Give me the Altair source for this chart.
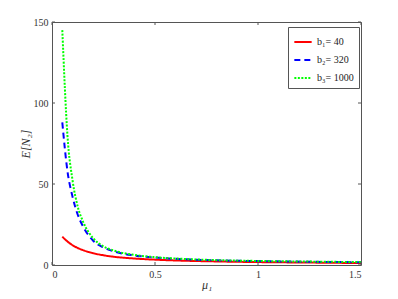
import altair as alt
import pandas as pd

mu = [0.05, 0.075, 0.1, 0.125, 0.15, 0.2, 0.25, 0.3, 0.4, 0.5, 0.6, 0.8, 1.0, 1.25, 1.5]
red = [17.5, 14.5, 12.2, 10.5, 9.2, 7.3, 6.0, 5.1, 4.0, 3.3, 2.8, 2.2, 1.8, 1.5, 1.2]
blue = [88, 58, 42, 31, 24, 15, 10.8, 8.4, 5.9, 4.6, 3.8, 2.9, 2.4, 2.0, 1.7]
green = [145, 80, 52, 36, 27, 16.5, 11.5, 8.9, 6.2, 4.8, 4.0, 3.0, 2.5, 2.1, 1.8]
names = ["b₁= 40", "b₂= 320", "b₃= 1000"]
colors = ["#ff0000", "#0000ff", "#00ff00"]
dashes = [[1, 0], [6, 4], [2, 1.5]]
xticks = [0, 0.5, 1, 1.5]
yticks = [0, 50, 100, 150]

rows = []
for name, vals in zip(names, [red, blue, green]):
    for m, v in zip(mu, vals):
        rows.append({"mu": m, "val": v, "series": name})
df = pd.DataFrame(rows)

W, H = 309, 243
font = "Liberation Serif"

xs = alt.Scale(domain=[0, 1.5], nice=False)
ys = alt.Scale(domain=[0, 150], nice=False)

lines = alt.Chart(df).mark_line(strokeWidth=2, interpolate="monotone").encode(
    x=alt.X("mu:Q", scale=xs, axis=alt.Axis(values=xticks, title="μ₁", titleFontStyle="italic",
                                            labelExpr="datum.value == 0 ? '0' : format(datum.value, '.1~f')")),
    y=alt.Y("val:Q", scale=ys, axis=alt.Axis(values=yticks, title="E[N₂]", titleFontStyle="italic")),
    color=alt.Color("series:N", scale=alt.Scale(domain=names, range=colors),
                    legend=alt.Legend(title=None, orient="none", legendX=236, legendY=5,
                                      symbolType="stroke", symbolStrokeWidth=2, symbolSize=300,
                                      labelFont=font, labelFontSize=10, labelColor="#222",
                                      strokeColor="#555", fillColor="white", padding=5,
                                      rowPadding=3)),
    strokeDash=alt.StrokeDash("series:N", scale=alt.Scale(domain=names, range=dashes), legend=None),
)

xt = pd.DataFrame({"t": xticks})
yt = pd.DataFrame({"t": yticks})
xtick_bot = alt.Chart(xt).mark_rule(color="#555").encode(x=alt.X("t:Q", scale=xs), y=alt.value(H), y2=alt.value(H - 3))
xtick_top = alt.Chart(xt).mark_rule(color="#555").encode(x=alt.X("t:Q", scale=xs), y=alt.value(0), y2=alt.value(3))
ytick_l = alt.Chart(yt).mark_rule(color="#555").encode(y=alt.Y("t:Q", scale=ys), x=alt.value(0), x2=alt.value(3))
ytick_r = alt.Chart(yt).mark_rule(color="#555").encode(y=alt.Y("t:Q", scale=ys), x=alt.value(W), x2=alt.value(W - 3))

chart = alt.layer(lines, xtick_bot, xtick_top, ytick_l, ytick_r).properties(
    width=W, height=H,
    autosize=alt.AutoSizeParams(type="none"),
    padding={"left": 44, "top": 14, "right": 29, "bottom": 26},
).configure(font=font).configure_view(stroke="#555", strokeWidth=1).configure_axis(
    grid=False, domain=False, ticks=False, labelFont=font, titleFont=font,
    labelFontSize=10, titleFontSize=12, labelColor="#333", titleColor="#333",
    titleFontWeight="normal",
).configure_axisX(labelPadding=4, titlePadding=0).configure_axisY(labelPadding=4, titlePadding=1)

chart.save("out.html", embed_options={"renderer": "svg", "actions": False})
